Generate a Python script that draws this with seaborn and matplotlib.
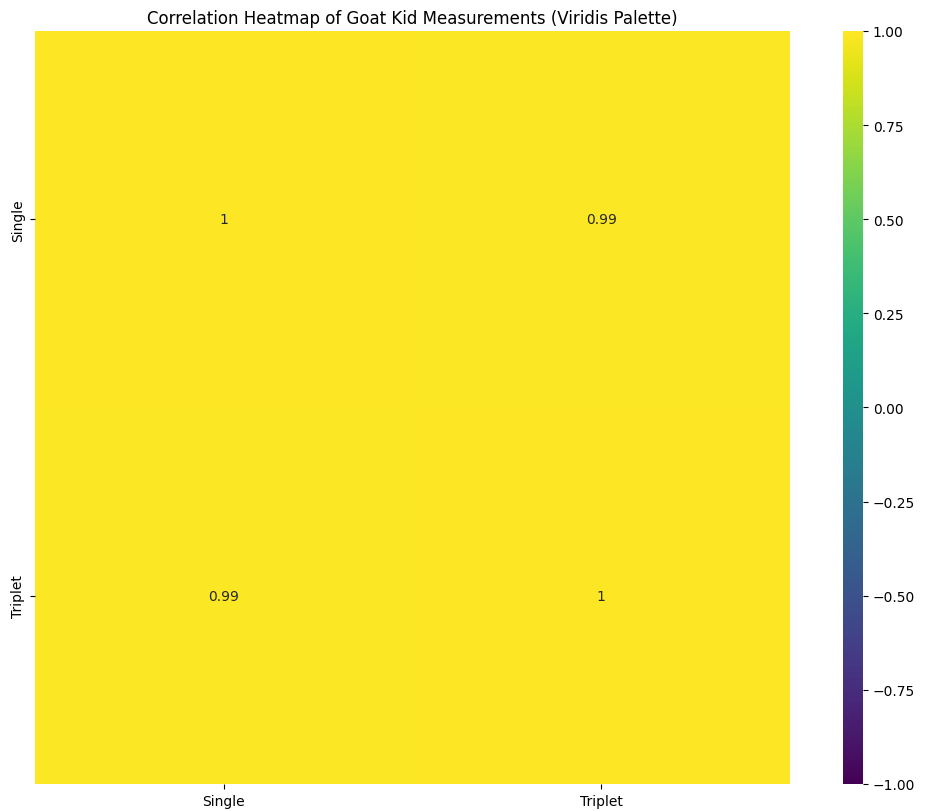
import matplotlib
matplotlib.use("Agg")
import matplotlib.pyplot as plt
import seaborn as sns
import pandas as pd

# Correlation between birth-type groups of goat kid measurements
groups = ["Single", "Triplet"]
corr_single = [1.0, 0.99]
corr_triplet = [0.99, 1.0]

corr = pd.DataFrame([corr_single, corr_triplet], index=groups, columns=groups)

fig = plt.figure(figsize=(9.31, 8.12), dpi=100)
ax = fig.add_axes([0.0376, 0.0333, 0.811, 0.9273])
cax = fig.add_axes([0.9055, 0.0333, 0.0215, 0.9273])

sns.heatmap(corr, annot=True, cmap="viridis", vmin=-1, vmax=1,
            ax=ax, cbar_ax=cax)
ax.set_title("Correlation Heatmap of Goat Kid Measurements (Viridis Palette)",
             fontsize=12)
ax.set_xlabel("")
ax.set_ylabel("")

fig.savefig("out.png", dpi=100)
